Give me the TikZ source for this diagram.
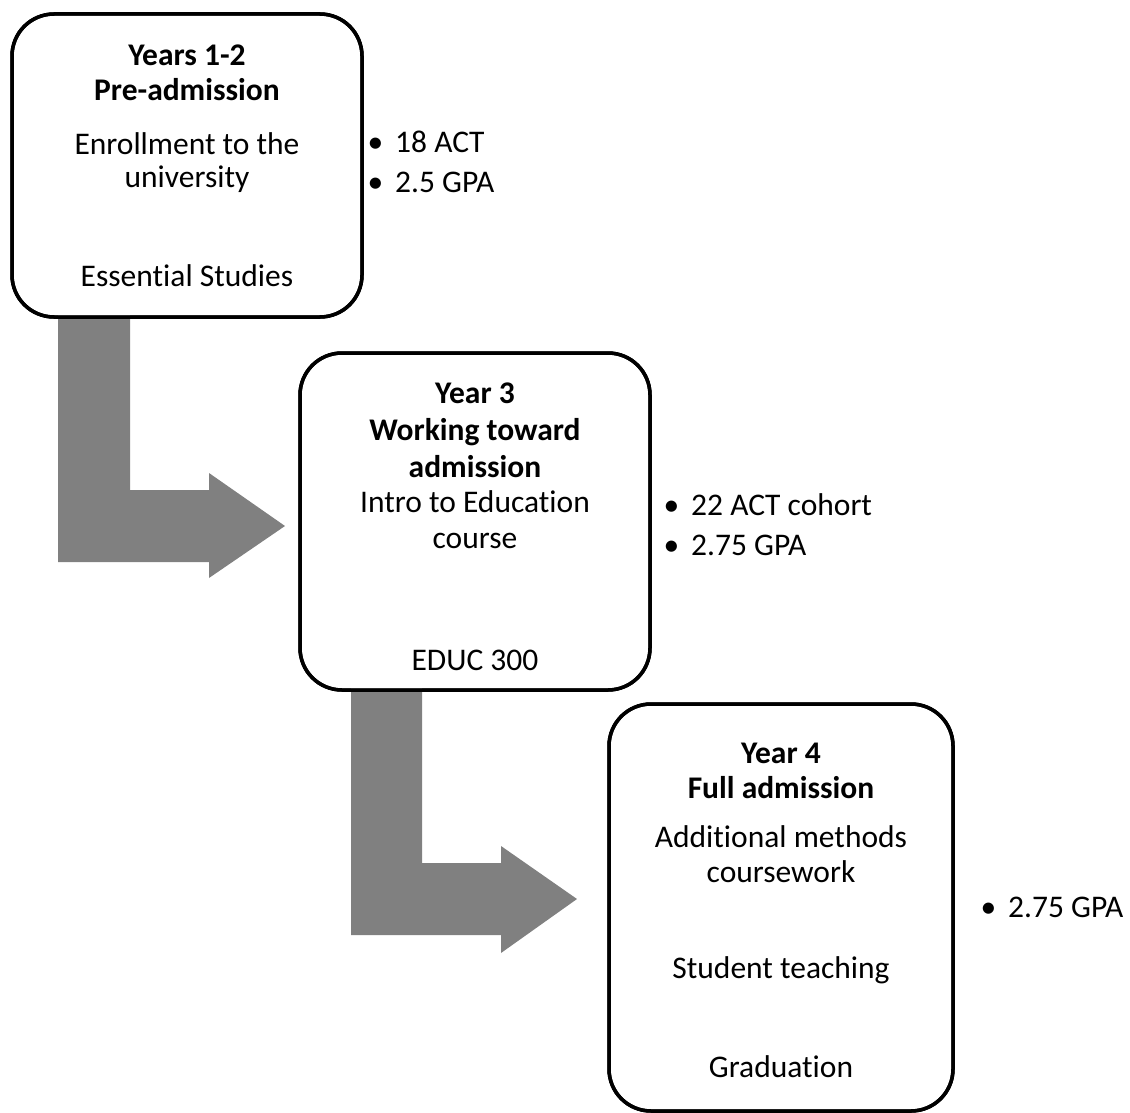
\documentclass[tikz,border=0pt]{standalone}
\usepackage{fontspec}
\setmainfont{Carlito}[Ligatures={NoCommon}]
\begin{document}
\begin{tikzpicture}[x=1pt,y=-1pt,
  stagebox/.style={draw=black, line width=3.5pt, rounded corners=42pt, fill=white, inner sep=0pt, outer sep=0pt},
  bendarrow/.style={fill=black!50, draw=none},
  line/.style={anchor=base, inner sep=0pt, font=\fontsize{31.5}{36}\selectfont},
  head/.style={line, font=\fontsize{31.5}{36}\selectfont\bfseries},
  bullet/.style={anchor=base west, inner sep=0pt, font=\fontsize{31.5}{36}\selectfont}]
\useasboundingbox (0,0) rectangle (1130,1113);
% boxes (as named nodes)
\node[stagebox, minimum width=350pt, minimum height=303pt] (b1) at (187,165.5) {};
\node[stagebox, minimum width=350pt, minimum height=337pt] (b2) at (475,521.5) {};
\node[stagebox, minimum width=344pt, minimum height=407pt] (b3) at (781,907.5) {};
% bent arrows
\fill[bendarrow] (58,315) coordinate (a1s) -- (130,315) -- (130,490) -- (209,490) -- (209,473) -- (285,526) coordinate (a1t) -- (209,578) -- (209,562) -- (58,562) -- cycle;
\fill[bendarrow] (351,688) coordinate (a2s) -- (422,688) -- (422,863) -- (501,863) -- (501,846) -- (577,899) coordinate (a2t) -- (501,953) -- (501,935) -- (351,935) -- cycle;
% redraw borders on top
\draw[line width=3.5pt, rounded corners=42pt] (b1.north west) rectangle (b1.south east);
\draw[line width=3.5pt, rounded corners=42pt] (b2.north west) rectangle (b2.south east);
\draw[line width=3.5pt, rounded corners=42pt] (b3.north west) rectangle (b3.south east);
% box 1 text
\node[head] (t11) at (187,66) {Years 1-2};
\node[head] (t12) at (187,101) {Pre-admission};
\node[line] (t13) at (187,154) {Enrollment to the};
\node[line] (t14) at (187,187) {university};
\node[line] (t15) at (187,286) {Essential Studies};
\node[bullet] (r11) at (395,153) {\llap{•\hspace{12pt}}18 ACT};
\node[bullet] (r12) at (395,193) {\llap{•\hspace{12pt}}2.5 GPA};
% box 2 text
\node[head] (t21) at (475,403) {Year 3};
\node[head] (t22) at (475,440) {Working toward};
\node[head] (t23) at (475,477) {admission};
\node[line] (t24) at (475,512) {Intro to Education};
\node[line] (t25) at (475,548) {course};
\node[line] (t26) at (475,670) {EDUC 300};
\node[bullet] (r21) at (691,515) {\llap{•\hspace{12pt}}22 ACT cohort};
\node[bullet] (r22) at (691,555) {\llap{•\hspace{12pt}}2.75 GPA};
% box 3 text
\node[head] (t31) at (781,763) {Year 4};
\node[head] (t32) at (781,798) {Full admission};
\node[line] (t33) at (781,847) {Additional methods};
\node[line] (t34) at (781,882) {coursework};
\node[line] (t35) at (781,978) {Student teaching};
\node[line] (t36) at (781,1077) {Graduation};
\node[bullet] (r31) at (1008,917) {\llap{•\hspace{12pt}}2.75 GPA};
\end{tikzpicture}
\end{document}
